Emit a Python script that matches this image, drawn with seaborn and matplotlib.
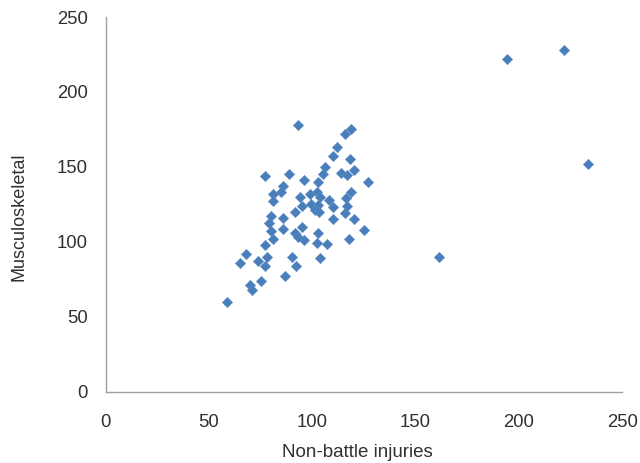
import matplotlib
matplotlib.use("Agg")
import matplotlib.pyplot as plt
import pandas as pd
import seaborn as sns

# Non-battle injury rate vs. musculoskeletal rate, one point per unit
non_battle = [
    93, 119, 116, 112, 110, 118.5, 106, 77, 89, 105, 114, 120, 117, 96, 103, 127,
    86, 81, 85, 81, 94, 99, 102.5, 104, 108, 119, 116.5, 95, 99.5, 103, 110, 117,
    91.5, 101.5, 103.5, 116, 80, 86, 110, 120, 79, 86, 95, 125, 80, 91.5, 93, 96,
    103, 118, 81, 77, 102.5, 107, 68, 65, 74, 78, 77, 90, 92, 104, 87, 75, 70, 71,
    59, 194.5, 222, 233.5, 161.5,
]
musculoskeletal = [
    178, 175, 172, 163, 157, 155, 150, 144, 145, 145, 146, 148, 144.5, 141, 140, 140,
    137, 132, 133, 127, 130, 132, 133, 130, 128, 133, 129, 124, 125, 124.5, 123, 124,
    120, 121, 120, 119.5, 117, 116, 115, 115, 112.5, 108.5, 110, 108, 107, 106, 103, 101,
    106, 102, 102, 98, 99, 98.5, 92, 86, 87, 90, 84, 90, 84, 89, 77, 74, 71, 68,
    60, 222, 228, 152, 90,
]

x_ticks = [0, 50, 100, 150, 200, 250]
y_ticks = [0, 50, 100, 150, 200, 250]

df = pd.DataFrame({"Non-battle injuries": non_battle, "Musculoskeletal": musculoskeletal})

sns.set_style("white")
plt.rcParams["font.family"] = ["Liberation Sans", "DejaVu Sans"]

text_color = "#303030"
spine_color = "#a0a0a0"

fig = plt.figure(figsize=(6.4, 4.63), dpi=100)
ax = fig.add_axes([0.165, 0.1544, 0.807, 0.8088])

sns.scatterplot(
    data=df, x="Non-battle injuries", y="Musculoskeletal", ax=ax,
    marker="D", s=28, color="#4a7ebb", edgecolor="#5b8cc8", linewidth=0.4,
    legend=False, zorder=3,
)

ax.set_xlim(0, 250)
ax.set_ylim(0, 250)
ax.set_xticks(x_ticks)
ax.set_yticks(y_ticks)
ax.tick_params(axis="both", length=0, labelsize=13.3, labelcolor=text_color)
ax.tick_params(axis="x", pad=16.5)
ax.tick_params(axis="y", pad=13)

for side in ("top", "right"):
    ax.spines[side].set_visible(False)
for side in ("left", "bottom"):
    ax.spines[side].set_color(spine_color)
    ax.spines[side].set_linewidth(1.0)

ax.set_xlabel("Non-battle injuries", fontsize=13.5, color=text_color)
ax.set_ylabel("Musculoskeletal", fontsize=13.0, color=text_color)
ax.xaxis.set_label_coords(0.488, -0.14)
ax.yaxis.set_label_coords(-0.152, 0.466)

fig.savefig("out.png", dpi=100)
